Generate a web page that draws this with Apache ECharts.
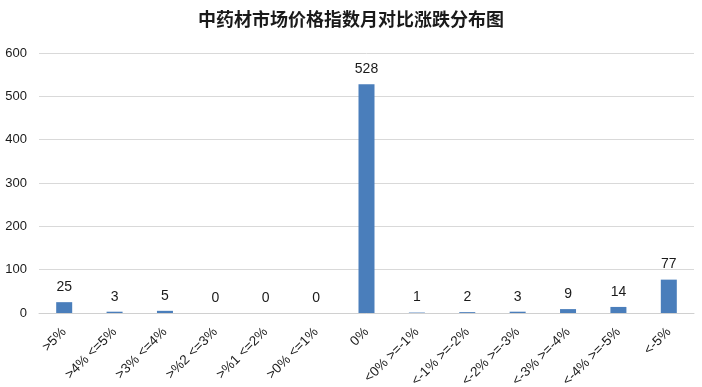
<!DOCTYPE html>
<html><head><meta charset="utf-8">
<script src="https://cdn.jsdelivr.net/npm/echarts@6/dist/echarts.min.js"></script>
<style>html,body{margin:0;padding:0;background:#fff}#c{width:702px;height:387px}</style>
</head><body><div id="c"></div>
<script>
const categories = [">5%", ">4% <=5%", ">3% <=4%", ">%2 <=3%", ">%1 <=2%", ">0% <=1%", "0%", "<0% >=-1%", "<-1% >=-2%", "<-2% >=-3%", "<-3% >=-4%", "<-4% >=-5%", "<-5%"];
const values = [25, 3, 5, 0, 0, 0, 528, 1, 2, 3, 9, 14, 77];
const yTicks = [0, 100, 200, 300, 400, 500, 600];

const chart = echarts.init(document.getElementById('c'));
chart.setOption({
  animation: false,
  title: {
    text: '中药材市场价格指数月对比涨跌分布图',
    left: 'center', top: 5,
    textStyle: { fontFamily: 'Noto Sans CJK SC', fontSize: 18, fontWeight: 'bold', color: '#1a1a1a' }
  },
  grid: { left: 39, right: 8, top: 53, bottom: 74, containLabel: false, outerBoundsMode: 'none' },
  xAxis: {
    type: 'category', data: categories,
    axisLine: { lineStyle: { color: '#d0d0d0' } },
    axisTick: { show: false },
    axisLabel: { interval: 0, rotate: 45, color: '#1a1a1a', fontSize: 13.5, fontFamily: 'Liberation Sans', margin: 17 }
  },
  yAxis: {
    type: 'value', min: yTicks[0], max: yTicks[yTicks.length - 1], interval: 100,
    axisLine: { show: false }, axisTick: { show: false },
    axisLabel: { color: '#1a1a1a', fontSize: 13, fontFamily: 'Liberation Sans', margin: 12 },
    splitLine: { lineStyle: { color: '#d9d9d9' } }
  },
  series: [{
    type: 'bar', data: values, barWidth: 16,
    itemStyle: { color: '#4a7ebb' },
    label: { show: true, position: 'top', color: '#1a1a1a', fontSize: 14, fontFamily: 'Liberation Sans', distance: 8 }
  }]
});
</script></body></html>
